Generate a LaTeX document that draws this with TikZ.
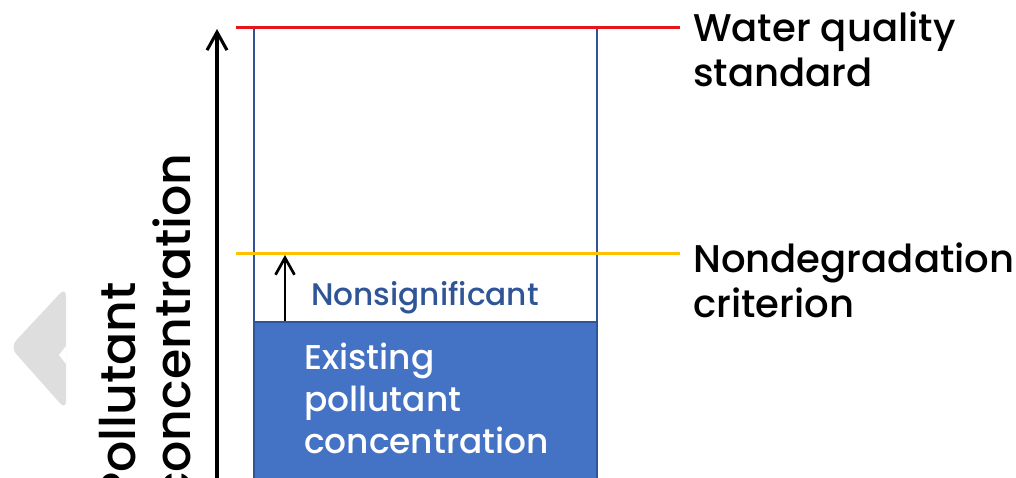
\documentclass[tikz,border=0pt]{standalone}
\usepackage{fontspec}
\setmainfont{Poppins Medium}
\usetikzlibrary{arrows.meta}
\definecolor{wqred}{HTML}{E8141A}
\definecolor{ndyellow}{HTML}{FFC000}
\definecolor{boxblue}{HTML}{4472C4}
\definecolor{edgeblue}{HTML}{2F5597}
\definecolor{chev}{HTML}{DEDEDE}
\tikzset{
  axisarrow/.style={line width=3.3pt,-{Straight Barb[length=18pt,width=20pt,line width=3.1pt]}},
  incarrow/.style={line width=2.8pt,-{Straight Barb[length=17pt,width=19pt,line width=2.7pt]}},
  limitline/.style={line width=3pt},
  sidelabel/.style={anchor=base west,inner sep=0pt,align=left,font=\fontsize{38.6}{45}\selectfont},
  boxlabel/.style={anchor=base west,inner sep=0pt,align=left,text=white,font=\fontsize{34.4}{42}\selectfont},
}
\begin{document}
\begin{tikzpicture}[x=1pt,y=-1pt]
\useasboundingbox (0,0) rectangle (1016,478);
\clip (0,0) rectangle (1016,478);
% grey chevron
\fill[chev,rounded corners=9pt] (66,287) -- (10,347) -- (66,410) -- cycle;
\fill[white] (66,346) -- (59,355) -- (66,364) -- cycle;
% column
\node[draw=edgeblue,line width=1.5pt,anchor=north west,inner sep=0pt,minimum width=343pt,minimum height=470pt] (col) at (253,28) {};
\node[fill=boxblue,draw=edgeblue,line width=1.5pt,anchor=north west,inner sep=0pt,minimum width=343pt,minimum height=170pt] (exist) at (253,321) {};
% limit lines
\coordinate (wql) at (236,28);
\coordinate (wqr) at (680,28);
\coordinate (ndl) at (236,253);
\coordinate (ndr) at (680,253);
\draw[limitline,wqred] (wql) -- (wqr);
\draw[limitline,ndyellow] (ndl) -- (ndr);
% axis
\coordinate (axbot) at (217,480);
\coordinate (axtop) at (217,29);
\draw[axisarrow] (axbot) -- (axtop);
% increment arrow
\coordinate (incbot) at (285,321);
\coordinate (inctop) at (285,255);
\draw[incarrow] (incbot) -- (inctop);
% labels
\node[sidelabel] (wqlabel) at (693,87) {Water quality\\standard};
\node[sidelabel] (ndlabel) at (693,317) {Nondegradation\\criterion};
\node[anchor=base,inner sep=0pt,text=edgeblue,font=\fontsize{31.2}{34}\selectfont] (nslabel) at (425,305) {Nonsignificant};
\node[boxlabel] (exlabel) at (304,453) {Existing\\pollutant\\concentration};
\node[rotate=90,anchor=base west,inner sep=0pt,align=left,font=\fontsize{49}{55}\selectfont] (ylabel) at (190,502) {Pollutant\\concentration};
\end{tikzpicture}
\end{document}
